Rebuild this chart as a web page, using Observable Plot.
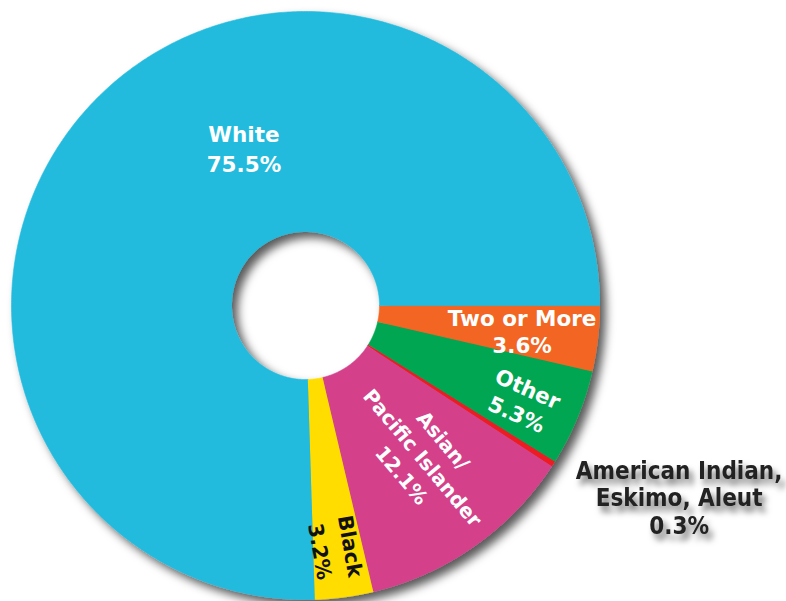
<!DOCTYPE html>
<html><head><meta charset="utf-8">
<script src="https://cdn.jsdelivr.net/npm/d3@7"></script>
<script src="https://cdn.jsdelivr.net/npm/@observablehq/plot@0.6"></script>
<style>body{margin:0;background:#fff} svg{display:block}</style>
</head><body><div id="chart"></div>
<script>
// ---- data ----
const categories = ["Two or More", "Other", "American Indian, Eskimo, Aleut", "Asian/Pacific Islander", "Black", "White"];
const percents = [3.6, 5.3, 0.3, 12.1, 3.2, 75.5];
const labelTexts = ["Two or More\n3.6%", "Other\n5.3%", "American Indian,\nEskimo, Aleut\n0.3%", "Asian/\nPacific Islander\n12.1%", "Black\n3.2%", "White\n75.5%"];
const colors = ["#F26522", "#00A651", "#ED1C24", "#D4418A", "#FFDD00", "#22BBDD"];

// ---- layout (styles / positions, not data) ----
const R = 294, R0 = 74;
const labelRadius = [218, 237, 420, 192, 245, 169.5];
const labelAngleShift = [0.1, 1.1, -5.4, -2.9, 0.0, 24.6];
const labelRotate = [0, 24, 0, 50, 80, 0];
const labelSize = [21.5, 21.5, 24, 20, 20.5, 21.5];
const labelColor = ["#fff", "#fff", "#222", "#fff", "#111", "#fff"];
const labelLineHeight = [1.27, 1.3, 1.15, 1.35, 1.5, 1.38];
const labelFont = ["DejaVu Sans", "DejaVu Sans", "DejaVu Sans Condensed, DejaVu Sans", "DejaVu Sans", "DejaVu Sans", "DejaVu Sans"];

const rad = a => a * Math.PI / 180;
const polar = (r, a) => [r * Math.cos(rad(a)), -r * Math.sin(rad(a))]; // a: degrees clockwise from east

// build slice polygons from cumulative percentages
const points = [];
const mids = [];
let cum = 0;
categories.forEach((name, i) => {
  const a0 = cum / 100 * 360, a1 = (cum + percents[i]) / 100 * 360;
  cum += percents[i];
  mids.push((a0 + a1) / 2);
  const n = Math.max(2, Math.ceil((a1 - a0) / 0.5));
  for (let k = 0; k <= n; k++) { const [x, y] = polar(R, a0 + (a1 - a0) * k / n); points.push({name, x, y}); }
  for (let k = n; k >= 0; k--) { const [x, y] = polar(R0, a0 + (a1 - a0) * k / n); points.push({name, x, y}); }
});

const labelData = categories.map((name, i) => {
  const [x, y] = polar(labelRadius[i], mids[i] + labelAngleShift[i]);
  return {name, text: labelTexts[i], x, y, i};
});

const svg = Plot.plot({
  width: 786, height: 601, margin: 0,
  style: {background: "#fff", overflow: "visible"},
  x: {domain: [-305, 481], axis: null},
  y: {domain: [-296, 305], axis: null},
  color: {domain: categories, range: colors},
  marks: [
    Plot.line(points, {x: "x", y: "y", z: "name", fill: "name", stroke: "name", strokeWidth: 0.6}),
    ...labelData.map(d => Plot.text([d], {
      x: "x", y: "y", text: "text",
      rotate: labelRotate[d.i], fontSize: labelSize[d.i], fill: labelColor[d.i],
      fontWeight: "bold", fontFamily: labelFont[d.i], lineHeight: labelLineHeight[d.i]
    }))
  ]
});

// drop shadows
const s = d3.select(svg);
const defs = s.append("defs");
const f1 = defs.append("filter").attr("id", "dshadow").attr("x", "-10%").attr("y", "-10%").attr("width", "130%").attr("height", "130%");
f1.append("feDropShadow").attr("dx", 6).attr("dy", 6).attr("stdDeviation", 5).attr("flood-color", "#000").attr("flood-opacity", 0.65);
const f2 = defs.append("filter").attr("id", "tshadow").attr("x", "-20%").attr("y", "-30%").attr("width", "150%").attr("height", "170%");
f2.append("feDropShadow").attr("dx", 4).attr("dy", 6).attr("stdDeviation", 3).attr("flood-color", "#000").attr("flood-opacity", 0.55);
s.selectAll("g[aria-label='line']").attr("filter", "url(#dshadow)");
s.selectAll("g[aria-label='text']").filter((d, i) => i === 2).attr("filter", "url(#tshadow)");

document.getElementById("chart").appendChild(svg);
</script>
</body></html>
